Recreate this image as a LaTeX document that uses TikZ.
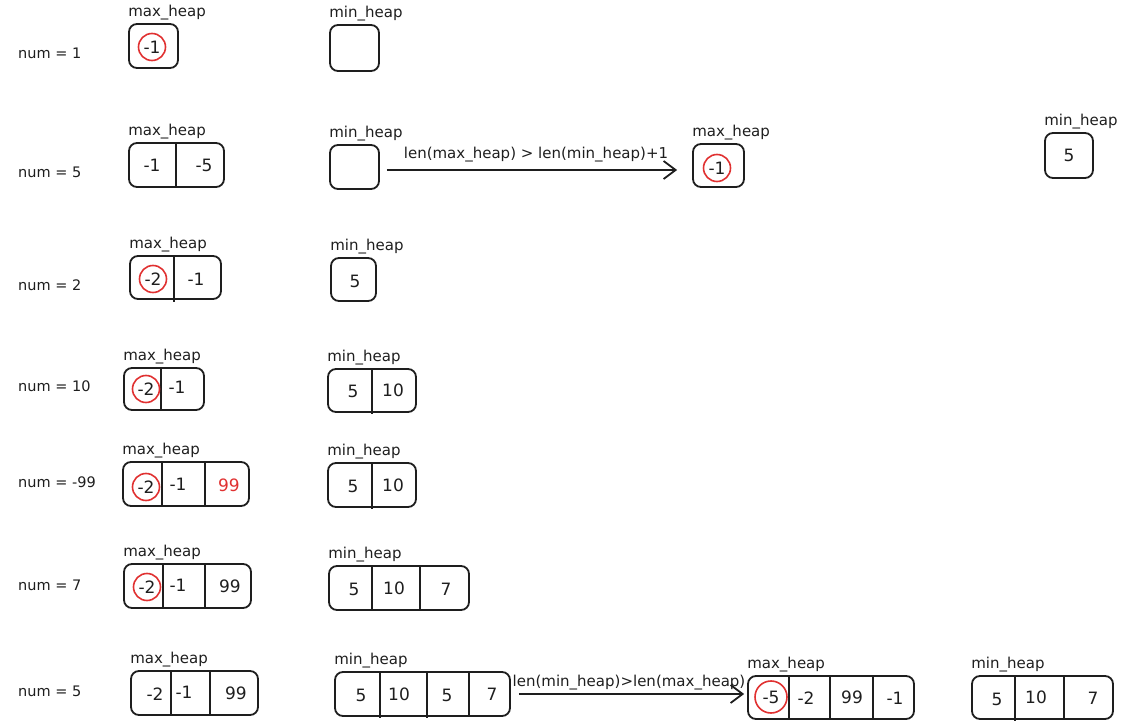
\documentclass[tikz,border=0pt]{standalone}
\usepackage{fontspec}
\setmainfont{DejaVu Sans}
\usetikzlibrary{positioning,arrows.meta}
\definecolor{ink}{HTML}{1E1E1E}
\definecolor{markred}{HTML}{E03131}

\begin{document}
\begin{tikzpicture}[
  x = 1pt, y = -1pt,
  every node/.style = {text = ink},
  heap/.style = {
    draw = ink, line width = 1.8pt,
    rounded corners = 8pt, inner sep = 0pt
  },
  val/.style   = {font = \fontsize{17}{17}\selectfont, inner sep = 1pt},
  hit/.style   = {val, circle, draw = markred, line width = 1.6pt, minimum size = 27pt},
  title/.style = {font = \fontsize{15}{15}\selectfont, inner sep = 1pt},
  num/.style   = {font = \fontsize{14.5}{14.5}\selectfont, inner sep = 1pt, anchor = west},
  cut/.style   = {draw = ink, line width = 1.5pt},
  push/.style  = {draw = ink, line width = 1.8pt,
                  -{Straight Barb[length = 12pt, width = 18pt, line width = 1.8pt]}},
  cond/.style  = {font = \fontsize{15}{15}\selectfont, inner sep = 1pt},
  node distance = 2pt and -1pt
]
  \useasboundingbox (0,0) rectangle (1143,727);

  % Zeile 1
  \node[num] (n1) at (17,53) {num = 1};
  \node[heap, minimum width = 49, minimum height = 44] (mx1) at (153.5,46) {};
  \node[title, above right = of mx1.north west] {max\_heap};
  \node[hit] (mx1a) at (152,47) {-1};
  \node[heap, minimum width = 49, minimum height = 46] (mn1) at (354.5,48) {};
  \node[title, above right = of mn1.north west] {min\_heap};

  % Zeile 2
  \node[num] (n2) at (17,172) {num = 5};
  \node[heap, minimum width = 95, minimum height = 44] (mx2) at (176.5,165) {};
  \node[title, above right = of mx2.north west] {max\_heap};
  \draw[cut] (176,143) -- (176,187);
  \node[val] (mx2a) at (152,165) {-1};
  \node[val] (mx2b) at (204,165) {-5};
  \node[heap, minimum width = 49, minimum height = 44] (mn2) at (354.5,167) {};
  \node[title, above right = of mn2.north west] {min\_heap};
  \node[heap, minimum width = 51, minimum height = 43] (mx2r) at (718.5,165.5) {};
  \node[title, above right = of mx2r.north west] {max\_heap};
  \node[hit] (mx2ra) at (717,168) {-1};
  \node[heap, minimum width = 48, minimum height = 45] (mn2r) at (1069,155.5) {};
  \node[title, above right = of mn2r.north west] {min\_heap};
  \node[val] (mn2ra) at (1069,155) {5};
  \draw[push, shorten <= 7pt, shorten >= 15pt] (mn2.east |- 0,170) -- (mx2r.west |- 0,170)
    node[cond, midway, above = 6pt] {len(max\_heap) > len(min\_heap)+1};

  % Zeile 3
  \node[num] (n3) at (17,285) {num = 2};
  \node[heap, minimum width = 91, minimum height = 43] (mx3) at (175.5,277.5) {};
  \node[title, above right = of mx3.north west] {max\_heap};
  \draw[cut] (174,256) -- (174,302);
  \node[hit] (mx3a) at (153,279) {-2};
  \node[val] (mx3b) at (196,279) {-1};
  \node[heap, minimum width = 45, minimum height = 43] (mn3) at (353.5,279.5) {};
  \node[title, above right = of mn3.north west] {min\_heap};
  \node[val] (mn3a) at (355,281) {5};

  % Zeile 4
  \node[num] (n4) at (17,386) {num = 10};
  \node[heap, minimum width = 80, minimum height = 42] (mx4) at (164,389) {};
  \node[title, above right = of mx4.north west] {max\_heap};
  \draw[cut] (161,368) -- (161,411);
  \node[hit] (mx4a) at (146,389) {-2};
  \node[val] (mx4b) at (177,387) {-1};
  \node[heap, minimum width = 88, minimum height = 43] (mn4) at (372,390.5) {};
  \node[title, above right = of mn4.north west] {min\_heap};
  \draw[cut] (372,369) -- (372,414);
  \node[val] (mn4a) at (353,391) {5};
  \node[val] (mn4b) at (393,390) {10};

  % Zeile 5
  \node[num] (n5) at (17,482) {num = -99};
  \node[heap, minimum width = 126, minimum height = 44] (mx5) at (186,484) {};
  \node[title, above right = of mx5.north west] {max\_heap};
  \draw[cut] (162,462) -- (162,507);
  \draw[cut] (205,462) -- (205,507);
  \node[hit] (mx5a) at (146,487) {-2};
  \node[val] (mx5b) at (178,484) {-1};
  \node[val, text = markred] (mx5c) at (229,485) {99};
  \node[heap, minimum width = 88, minimum height = 44] (mn5) at (372,485) {};
  \node[title, above right = of mn5.north west] {min\_heap};
  \draw[cut] (372,463) -- (372,509);
  \node[val] (mn5a) at (353,486) {5};
  \node[val] (mn5b) at (393,485) {10};

  % Zeile 6
  \node[num] (n6) at (17,585) {num = 7};
  \node[heap, minimum width = 127, minimum height = 44] (mx6) at (187.5,586) {};
  \node[title, above right = of mx6.north west] {max\_heap};
  \draw[cut] (163,564) -- (163,609);
  \draw[cut] (205,564) -- (205,609);
  \node[hit] (mx6a) at (147,587) {-2};
  \node[val] (mx6b) at (178,585) {-1};
  \node[val] (mx6c) at (230,586) {99};
  \node[heap, minimum width = 140, minimum height = 44] (mn6) at (399,588) {};
  \node[title, above right = of mn6.north west] {min\_heap};
  \draw[cut] (372,566) -- (372,611);
  \draw[cut] (420,566) -- (420,611);
  \node[val] (mn6a) at (354,589) {5};
  \node[val] (mn6b) at (394,588) {10};
  \node[val] (mn6c) at (446,589) {7};

  % Zeile 7
  \node[num] (n7) at (17,691) {num = 5};
  \node[heap, minimum width = 127, minimum height = 44] (mx7) at (194.5,693) {};
  \node[title, above right = of mx7.north west] {max\_heap};
  \draw[cut] (171,671) -- (171,716);
  \draw[cut] (210,671) -- (210,716);
  \node[val] (mx7a) at (155,694) {-2};
  \node[val] (mx7b) at (184,692) {-1};
  \node[val] (mx7c) at (236,693) {99};
  \node[heap, minimum width = 175, minimum height = 44] (mn7) at (422.5,694) {};
  \node[title, above right = of mn7.north west] {min\_heap};
  \draw[cut] (380,672) -- (380,718);
  \draw[cut] (427,672) -- (427,718);
  \draw[cut] (469,672) -- (469,716);
  \node[val] (mn7a) at (361,695) {5};
  \node[val] (mn7b) at (399,694) {10};
  \node[val] (mn7c) at (447,695) {5};
  \node[val] (mn7d) at (492,694) {7};
  \node[heap, minimum width = 166, minimum height = 43] (mx7r) at (831,697.5) {};
  \node[title, above right = of mx7r.north west] {max\_heap};
  \draw[cut] (789,676) -- (789,720);
  \draw[cut] (830,676) -- (830,719);
  \draw[cut] (873,676) -- (873,719);
  \node[hit, minimum size = 32pt] (mx7ra) at (771,697) {-5};
  \node[val] (mx7rb) at (806,698) {-2};
  \node[val] (mx7rc) at (852,697) {99};
  \node[val] (mx7rd) at (895,698) {-1};
  \node[heap, minimum width = 141, minimum height = 43] (mn7r) at (1042.5,697.5) {};
  \node[title, above right = of mn7r.north west] {min\_heap};
  \draw[cut] (1015,676) -- (1015,721);
  \draw[cut] (1064,676) -- (1064,719);
  \node[val] (mn7ra) at (997,699) {5};
  \node[val] (mn7rb) at (1036,697) {10};
  \node[val] (mn7rc) at (1093,698) {7};
  \draw[push, shorten <= 8pt, shorten >= 3pt] (mn7.east |- 0,694) -- (mx7r.west |- 0,694)
    node[cond, midway, above = 2pt] {len(min\_heap)>len(max\_heap)};
\end{tikzpicture}
\end{document}
